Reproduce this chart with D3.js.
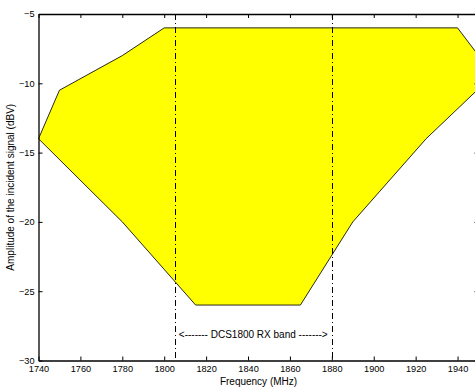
<!DOCTYPE html>
<html>
<head>
<meta charset="utf-8">
<script src="https://cdn.jsdelivr.net/npm/d3@7"></script>
<style>
  html, body { margin: 0; padding: 0; background: #fff; }
  svg { display: block; }
  text { font-family: "Liberation Sans", Arial, Helvetica, sans-serif; fill: #000; }
</style>
</head>
<body>
<svg id="chart" width="475" height="389"></svg>
<script>
// Acceptance region of the incident signal versus frequency
const freqMHz      = [1740, 1750, 1780, 1800, 1940, 1950, 1950, 1925, 1890, 1865, 1815, 1780];
const amplitudeDBV = [-14, -10.5, -8, -6, -6, -8, -10.4, -14, -20, -26, -26, -20];

// DCS1800 receive band edges
const bandEdgesMHz = [1805, 1880];
const bandLabel = "<------- DCS1800 RX band ------->";
const bandLabelPos = [1842.5, -28.1];

// Axis ticks
const xTickValues = [1740, 1760, 1780, 1800, 1820, 1840, 1860, 1880, 1900, 1920, 1940];
const yTickValues = [-30, -25, -20, -15, -10, -5];
const xDomain = [1740, 1950];
const yDomain = [-30, -5];

const svg = d3.select("#chart");
const plot = { left: 38.5, right: 478.5, top: 14, bottom: 360.5 };

const x = d3.scaleLinear().domain(xDomain).range([plot.left, plot.right]);
const y = d3.scaleLinear().domain(yDomain).range([plot.bottom, plot.top]);

const pts = freqMHz.map((f, i) => [f, amplitudeDBV[i]]);

// filled region
svg.append("path")
  .datum(pts)
  .attr("d", d3.line().x(d => x(d[0])).y(d => y(d[1])).curve(d3.curveLinearClosed))
  .attr("fill", "#ffff00")
  .attr("stroke", "#111")
  .attr("stroke-width", 0.9);

// band edge markers
svg.selectAll("line.band")
  .data(bandEdgesMHz)
  .join("line")
  .attr("class", "band")
  .attr("x1", d => Math.round(x(d)) + 0.5)
  .attr("x2", d => Math.round(x(d)) + 0.5)
  .attr("y1", plot.top)
  .attr("y2", plot.bottom)
  .attr("stroke", "#000")
  .attr("stroke-width", 1)
  .attr("stroke-dasharray", "6,3,1,3");

svg.append("text")
  .attr("x", x(bandLabelPos[0]))
  .attr("y", y(bandLabelPos[1]))
  .attr("text-anchor", "middle")
  .attr("dominant-baseline", "central")
  .attr("font-size", 10)
  .text(bandLabel);

const fmt = d => (d < 0 ? "\u2212" + Math.abs(d) : String(d));

// axes on all four sides, ticks pointing inward
const axisStyle = g => {
  g.select(".domain").attr("stroke", "#000").attr("stroke-width", 1.3);
  g.selectAll(".tick line").attr("stroke", "#000").attr("stroke-width", 1);
  g.selectAll("text").attr("font-size", 9.2).attr("font-family", "Liberation Sans, Arial, sans-serif");
};

svg.append("g")
  .attr("transform", `translate(0,${plot.bottom})`)
  .call(d3.axisBottom(x).tickValues(xTickValues).tickSizeInner(-4).tickSizeOuter(0).tickPadding(4.5).tickFormat(fmt))
  .call(axisStyle);

svg.append("g")
  .attr("transform", `translate(0,${plot.top})`)
  .call(d3.axisTop(x).tickValues(xTickValues).tickSizeInner(-4).tickSizeOuter(0).tickFormat(""))
  .call(axisStyle);

svg.append("g")
  .attr("transform", `translate(${plot.left},0)`)
  .call(d3.axisLeft(y).tickValues(yTickValues).tickSizeInner(-4).tickSizeOuter(0).tickPadding(4).tickFormat(fmt))
  .call(axisStyle);

svg.append("g")
  .attr("transform", `translate(${plot.right},0)`)
  .call(d3.axisRight(y).tickValues(yTickValues).tickSizeInner(-4).tickSizeOuter(0).tickFormat(""))
  .call(axisStyle);

// axis titles
svg.append("text")
  .attr("x", (plot.left + plot.right) / 2)
  .attr("y", 381.5)
  .attr("text-anchor", "middle")
  .attr("dominant-baseline", "central")
  .attr("font-size", 10)
  .text("Frequency (MHz)");

svg.append("text")
  .attr("transform", `translate(10,${(plot.top + plot.bottom) / 2}) rotate(-90)`)
  .attr("text-anchor", "middle")
  .attr("dominant-baseline", "central")
  .attr("font-size", 10)
  .text("Amplitude of the incident signal (dBV)");
</script>
</body>
</html>
